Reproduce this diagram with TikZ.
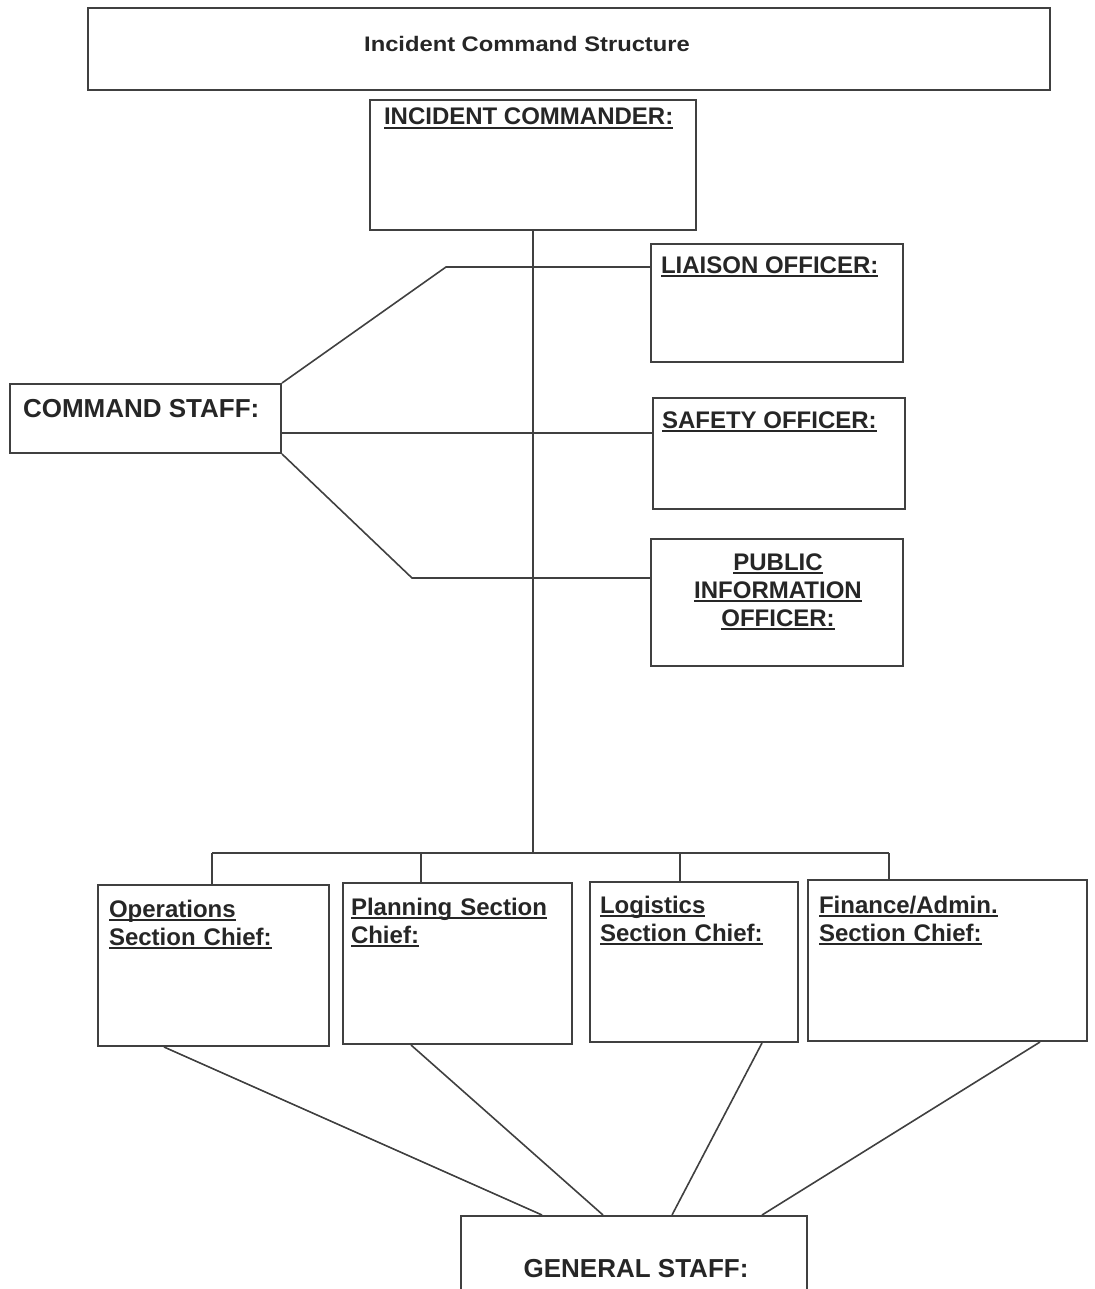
\documentclass[tikz,border=0pt]{standalone}
\usepackage{fontspec}
\setmainfont{Liberation Sans}
\newfontfamily\titlefont[FakeStretch=1.13]{Liberation Sans}
\usetikzlibrary{positioning}
\newcommand{\uln}[1]{\setbox0=\hbox{#1}\leavevmode\rlap{\rule[-4pt]{\wd0}{1.8pt}}\box0}

\begin{document}
\begin{tikzpicture}[x=1pt,y=-1pt,
	every node/.style={draw=black!75,line width=2pt,rectangle,inner sep=0pt},
	lbl/.style={draw=none,text=black!85,font=\bfseries\fontsize{24}{28}\selectfont},
	big/.style={draw=none,text=black!85,font=\bfseries\fontsize{26}{30}\selectfont},
	lines/.style={draw=black!75,line width=1.6pt}]

\useasboundingbox (0,0) rectangle (1094,1289);
\clip (0,0) rectangle (1094,1289);

\node[minimum width=962,minimum height=82] (title) at (569,49) {};
\node[minimum width=326,minimum height=130] (ic) at (533,165) {};
\node[minimum width=252,minimum height=118] (liaison) at (777,303) {};
\node[minimum width=252,minimum height=111] (safety) at (779,453.5) {};
\node[minimum width=252,minimum height=127] (pio) at (777,602) {};
\node[minimum width=271,minimum height=69] (cmd) at (145.5,418.5) {};
\node[minimum width=231,minimum height=161] (ops) at (213.5,965.5) {};
\node[minimum width=229,minimum height=161] (plan) at (457.5,963.5) {};
\node[minimum width=208,minimum height=160] (logi) at (694,962) {};
\node[minimum width=279,minimum height=161] (fin) at (947.5,960.5) {};
\node[minimum width=346,minimum height=114] (gen) at (634,1273) {};

\node[lbl,font=\titlefont\bfseries\fontsize{21}{25}\selectfont,anchor=base] (t0) at (527,52) {Incident Command Structure};
\node[lbl,anchor=base west] (t1) at (383,125) {\uln{INCIDENT COMMANDER:}};
\node[lbl,anchor=base west] (t2) at (660,273) {\uln{LIAISON OFFICER:}};
\node[lbl,anchor=base west] (t3) at (661,428) {\uln{SAFETY OFFICER:}};
\node[lbl,text width=252,align=center,anchor=base] (t4) at (778,570) {\uln{PUBLIC}\\\uln{INFORMATION}\\\uln{OFFICER:}};
\node[big,anchor=base west] (t5) at (22,417) {COMMAND STAFF:};
\node[lbl,text width=220,align=left,anchor=base west] (t6) at (108,917) {\uln{Operations}\\\uln{Section Chief:}};
\node[lbl,text width=220,align=left,anchor=base west] (t7) at (350,915) {\uln{Planning Section}\\\uln{Chief:}};
\node[lbl,text width=200,align=left,anchor=base west] (t8) at (599,913) {\uln{Logistics}\\\uln{Section Chief:}};
\node[lbl,text width=260,align=left,anchor=base west] (t9) at (818,913) {\uln{Finance/Admin.}\\\uln{Section Chief:}};
\node[big,anchor=base] (t10) at (636,1277) {GENERAL STAFF:};

\coordinate (k1) at (446,267);
\coordinate (k2) at (0,433);
\coordinate (k3) at (412,578);
\draw[lines] (cmd.north east) -- (k1) -- (liaison.west |- k1);
\draw[lines] (cmd.east |- k2) -- (safety.west |- k2);
\draw[lines] (cmd.south east) -- (k3) -- (pio.west |- k3);

\foreach \i/\x in {1/212,2/421,3/680,4/889}
	\coordinate (b\i) at (\x,853);
\draw[lines] (ic.south) -- (ic.south |- b1);
\draw[lines] (b1) -- (b4);
\foreach \i/\n in {1/ops,2/plan,3/logi,4/fin}
	\draw[lines] (b\i) -- (b\i |- \n.north);
\foreach \n/\x/\y in {ops/164/542,plan/411/603,logi/762/672,fin/1040/762}
	\draw[lines] (\n.south -| \x,0) -- (gen.north -| \y,0);
\end{tikzpicture}
\end{document}
